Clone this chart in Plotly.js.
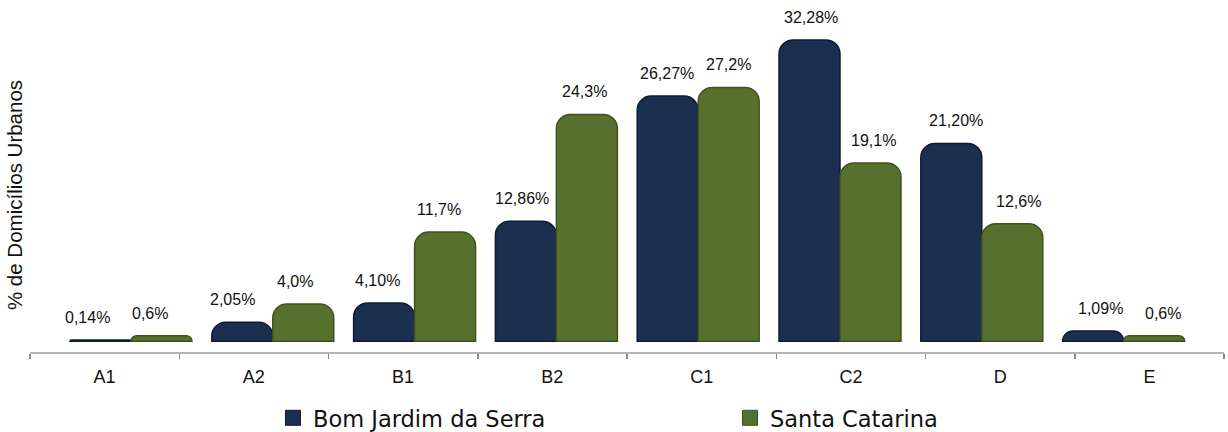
<!DOCTYPE html>
<html>
<head>
<meta charset="utf-8">
<script src="https://cdn.plot.ly/plotly-3.0.1.min.js"></script>
<style>html,body{margin:0;padding:0;background:#fff}#chart{width:1228px;height:432px}</style>
</head>
<body>
<div id="chart"></div>
<script>
var categories = ['A1', 'A2', 'B1', 'B2', 'C1', 'C2', 'D', 'E'];
var bomJardim = [0.14, 2.05, 4.10, 12.86, 26.27, 32.28, 21.20, 1.09];
var santaCatarina = [0.6, 4.0, 11.7, 24.3, 27.2, 19.1, 12.6, 0.6];
var seriesNames = ['Bom Jardim da Serra', 'Santa Catarina'];
var seriesColors = ['#1b3050', '#58702e'];
var seriesEdges = ['#0e1a2e', '#3e501f'];
var seriesDecimals = [2, 1];

function fmt(v, d) { return v.toFixed(d).replace('.', ',') + '%'; }

var barTraces = [bomJardim, santaCatarina].map(function (vals, s) {
  return {
    type: 'bar', name: seriesNames[s], x: categories, y: vals,
    xaxis: 'x', yaxis: 'y', legendgroup: 'g' + s, showlegend: false,
    marker: { color: seriesColors[s], cornerradius: 14,
      line: { width: 1.5, color: seriesEdges[s] } },
    hoverinfo: 'x+y'
  };
});

// legend entries with square keys, like the reference
var legendTraces = seriesNames.map(function (n, s) {
  return {
    type: 'scatter', mode: 'markers', name: n, x: [null], y: [null],
    xaxis: 'x', yaxis: 'y', legendgroup: 'g' + s, showlegend: true,
    marker: { symbol: 'square', size: 15, color: seriesColors[s],
      line: { width: 1, color: seriesEdges[s] } },
    hoverinfo: 'skip'
  };
});

// invisible helper trace that gives the lower category axis its categories
var axisTrace = {
  type: 'scatter', mode: 'none', x: categories, y: bomJardim,
  xaxis: 'x2', yaxis: 'y', showlegend: false, hoverinfo: 'skip'
};

var annotations = [];
[bomJardim, santaCatarina].forEach(function (vals, s) {
  vals.forEach(function (v, i) {
    annotations.push({
      xref: 'x', yref: 'y', x: categories[i], y: v,
      text: fmt(v, seriesDecimals[s]), showarrow: false,
      xanchor: 'center', yanchor: 'bottom',
      xshift: (s === 0 ? -31 : 31) - 12 + 2.9 * i, yshift: 12,
      font: { family: 'Liberation Sans, Arial, sans-serif', size: 16, color: '#111' }
    });
  });
});

var layout = {
  width: 1228, height: 432,
  margin: { l: 30, r: 4, t: 38, b: 80, autoexpand: false },
  paper_bgcolor: '#fff', plot_bgcolor: '#fff',
  barmode: 'group', bargap: 0.14, bargroupgap: 0,
  showlegend: true,
  legend: {
    orientation: 'h', xref: 'paper', x: 0.2035, xanchor: 'left',
    yref: 'container', y: 0.032, yanchor: 'middle',
    bgcolor: 'rgba(0,0,0,0)',
    font: { family: 'DejaVu Sans, sans-serif', size: 22.5, color: '#111' },
    entrywidth: 412, entrywidthmode: 'pixels', traceorder: 'normal',
    itemsizing: 'trace'
  },
  xaxis: {
    type: 'category', range: [-0.712, 7.708], fixedrange: true,
    visible: false, showgrid: false, zeroline: false
  },
  xaxis2: {
    type: 'category', overlaying: 'x', anchor: 'y', side: 'bottom',
    range: [-0.5, 7.5], tickson: 'boundaries',
    showline: true, linecolor: '#b4b4b4', linewidth: 2,
    ticks: 'outside', ticklen: 5, tickcolor: '#8a8a8a', tickwidth: 1.5,
    ticklabelstandoff: 7,
    showgrid: false, zeroline: false,
    tickfont: { family: 'Liberation Sans, Arial, sans-serif', size: 18, color: '#111' }
  },
  yaxis: {
    range: [-1.15, 32.49], showticklabels: false, showgrid: false,
    zeroline: false, ticks: '', showline: false,
    title: { text: '% de Domicílios Urbanos', standoff: 0,
      font: { family: 'Liberation Sans, Arial, sans-serif', size: 20.5, color: '#111' } }
  },
  annotations: annotations
};

Plotly.newPlot('chart', barTraces.concat(legendTraces, [axisTrace]), layout, { displayModeBar: false, staticPlot: true });
</script>
</body>
</html>
